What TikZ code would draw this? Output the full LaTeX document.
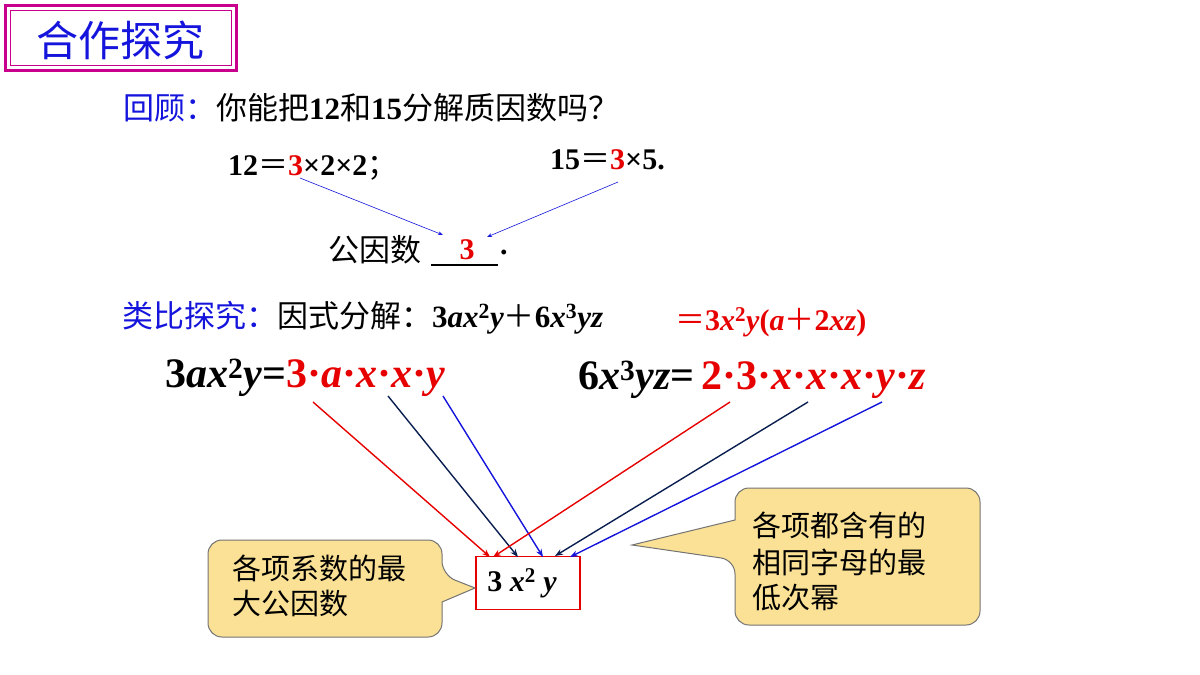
\documentclass[tikz,border=0pt]{standalone}
\usepackage{fontspec}
\usetikzlibrary{arrows.meta}
\setmainfont{Liberation Serif}
\newfontfamily\cjk{Noto Sans CJK SC}
\definecolor{myred}{RGB}{230,0,0}
\definecolor{myblue}{RGB}{20,20,220}
\definecolor{navy}{RGB}{10,30,80}
\definecolor{magent}{RGB}{200,0,140}
\definecolor{callfill}{RGB}{250,225,150}
\newcommand{\sq}[1]{\textsuperscript{#1}}
\newcommand{\feq}{{\cjk\mdseries ＝}}
\newcommand{\fplus}{{\cjk\mdseries ＋}}
\begin{document}
\begin{tikzpicture}[x=1pt,y=-1pt,
  txt/.style={anchor=west,inner sep=0pt,font=\fontsize{31}{33}\selectfont},
  big/.style={anchor=west,inner sep=0pt,font=\fontsize{42}{44}\selectfont\bfseries},
  thinarr/.style={myblue,line width=0.6pt,-{Stealth[length=5pt]}},
  arr/.style={line width=1.4pt,-{Stealth[length=8pt]}},
  callout/.style={fill=callfill,draw=black!55,line width=1pt},
  ctxt/.style={anchor=west,inner sep=0pt,font=\cjk\fontsize{29}{31}\selectfont}]
\useasboundingbox (0,0) rectangle (1200,675);
% title
\draw[magent,line width=3pt] (5,5) rectangle (236,70);
\draw[magent,line width=0.8pt] (10,10) rectangle (231,65);
\node[inner sep=0pt,myblue,font=\cjk\fontsize{42}{44}\selectfont] (title) at (120,40) {合作探究};
% review
\node[txt] (review) at (123,108) {{\cjk\color{myblue}回顾：}{\cjk 你能把}\textbf{12}{\cjk 和}\textbf{15}{\cjk 分解质因数吗？}};
\node[txt,font=\fontsize{30}{32}\selectfont\bfseries] (e12) at (228,168) {12\feq{\color{myred}3}×2×2{\cjk\mdseries ；}};
\node[txt,font=\fontsize{30}{32}\selectfont\bfseries] (e15) at (550,160) {15\feq{\color{myred}3}×5.};
\coordinate (s1) at (300,178);
\coordinate (s2) at (618,182);
\node[txt] (gys) at (328,250) {{\cjk 公因数}};
\node[inner sep=0pt,font=\fontsize{30}{32}\selectfont\bfseries,myred] (three) at (467,250) {3};
\node[inner sep=0pt,font=\fontsize{30}{32}\selectfont\bfseries,anchor=west] (dot) at (500,252) {.};
\draw[line width=1.2pt] (431,265) -- (498,265);
\coordinate (t1) at (443,235);
\coordinate (t2) at (487,237);
\draw[thinarr] (s1) -- (t1);
\draw[thinarr] (s2) -- (t2);
% analogy
\node[txt] (analog) at (122,318) {{\cjk\color{myblue}类比探究：}{\cjk 因式分解：}\textbf{3\textit{ax}\sq{2}\textit{y}\fplus 6\textit{x}\sq{3}\textit{yz}}};
\node[txt,myred,font=\fontsize{30}{32}\selectfont\bfseries] (res) at (675,322) {\feq 3\textit{x}\sq{2}\textit{y}(\textit{a}\fplus 2\textit{xz})};
\node[big] (left) at (165,378) {3\textit{ax}\sq{2}\textit{y}={\color{myred}3·\textit{a}·\textit{x}·\textit{x}·\textit{y}}};
\node[big] (right) at (578,380) {6\textit{x}\sq{3}\textit{yz}=\,{\color{myred}2·3·\textit{x}·\textit{x}·\textit{x}·\textit{y}·\textit{z}}};
\coordinate (a1) at (313,402);
\coordinate (a2) at (388,396);
\coordinate (a3) at (443,396);
\coordinate (b1) at (730,402);
\coordinate (b2) at (808,402);
\coordinate (b3) at (882,402);
\node[draw=myred,line width=1.3pt,minimum width=104pt,minimum height=53pt,inner sep=0pt] (box) at (528,583) {};
\node[inner sep=0pt,font=\fontsize{30}{32}\selectfont\bfseries] (boxt) at (522,583) {3 \textit{x}\sq{2} \textit{y}};
\draw[arr,myred] (a1) -- (490,557);
\draw[arr,navy] (a2) -- (518,557);
\draw[arr,myblue] (a3) -- (543,557);
\draw[arr,myred] (b1) -- (493,557);
\draw[arr,navy] (b2) -- (555,556);
\draw[arr,myblue] (b3) -- (570,557);
% callouts
\draw[callout,rounded corners=14] (208,540) -- (442,540) -- (442,575) [sharp corners]-- (475,588) -- (442,602) [rounded corners=14]-- (442,637) -- (208,637) -- cycle;
\node[ctxt] (c1a) at (232,568) {各项系数的最};
\node[ctxt] (c1b) at (232,604) {大公因数};
\draw[callout,rounded corners=14] (735,488) -- (980,488) -- (980,625) -- (735,625) -- (735,560) [sharp corners]-- (632,545) -- (735,520) [rounded corners=14]-- cycle;
\node[ctxt] (c2a) at (752,525) {各项都含有的};
\node[ctxt] (c2b) at (752,562) {相同字母的最};
\node[ctxt] (c2c) at (752,598) {低次幂};
\end{tikzpicture}
\end{document}
